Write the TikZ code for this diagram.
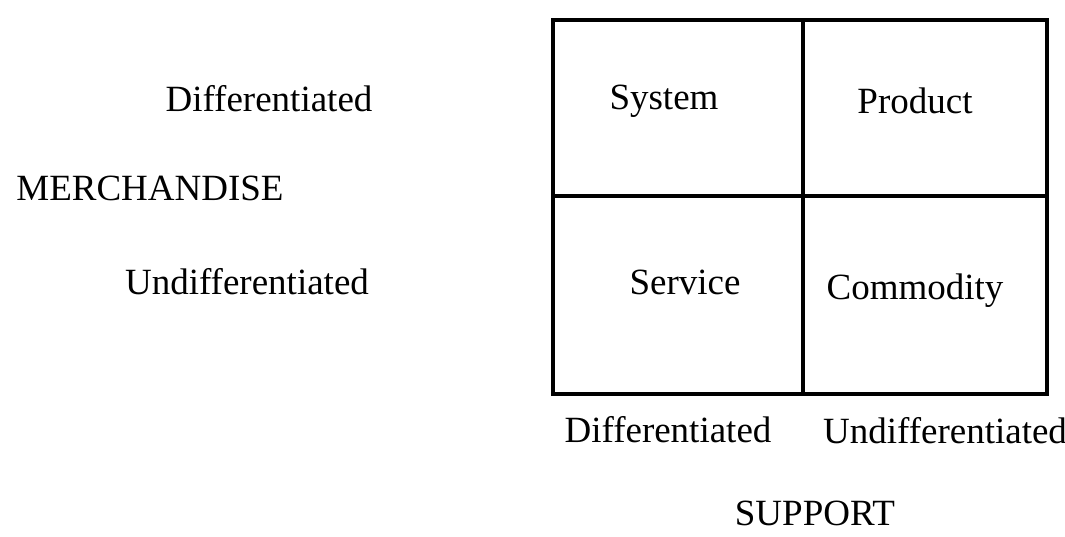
\documentclass[tikz,border=0pt]{standalone}
\usepackage{fontspec}
\setmainfont{Liberation Serif}
\usetikzlibrary{positioning}

\begin{document}
\begin{tikzpicture}[
    x=0.5pt, y=-0.5pt,
    lbl/.style={
      inner sep=0pt,
      anchor=base,
      font=\fontsize{18.5}{22}\selectfont
    },
    grid/.style={line width=1.75pt, line cap=rect}
  ]
    \useasboundingbox (0,0) rectangle (1065,536);

    % the 2x2 matrix
    \coordinate (nw) at (553,20);
    \coordinate (se) at (1047,394);
    \coordinate (topmid) at (803,20);
    \coordinate (botmid) at (803,394);
    \coordinate (leftmid) at (553,196);
    \coordinate (rightmid) at (1047,196);

    \draw[grid] (nw) rectangle (se);
    \draw[grid] (topmid) -- (botmid);
    \draw[grid] (leftmid) -- (rightmid);

    \node[lbl] (system) at (664,109) {System};
    \node[lbl] (product) at (915,113) {Product};
    \node[lbl] (service) at (685,294) {Service};
    \node[lbl] (commodity) at (915,299) {Commodity};

    % merchandise axis
    \node[lbl] (mdiff) at (269,111) {Differentiated};
    \node[lbl] (merch) at (150,200) {MERCHANDISE};
    \node[lbl] (mundiff) at (247,294) {Undifferentiated};

    % support axis
    \node[lbl] (sdiff) at (668,442) {Differentiated};
    \node[lbl] (sundiff) at (945,443) {Undifferentiated};
    \node[lbl] (support) at (815,525) {SUPPORT};
  \end{tikzpicture}
\end{document}
